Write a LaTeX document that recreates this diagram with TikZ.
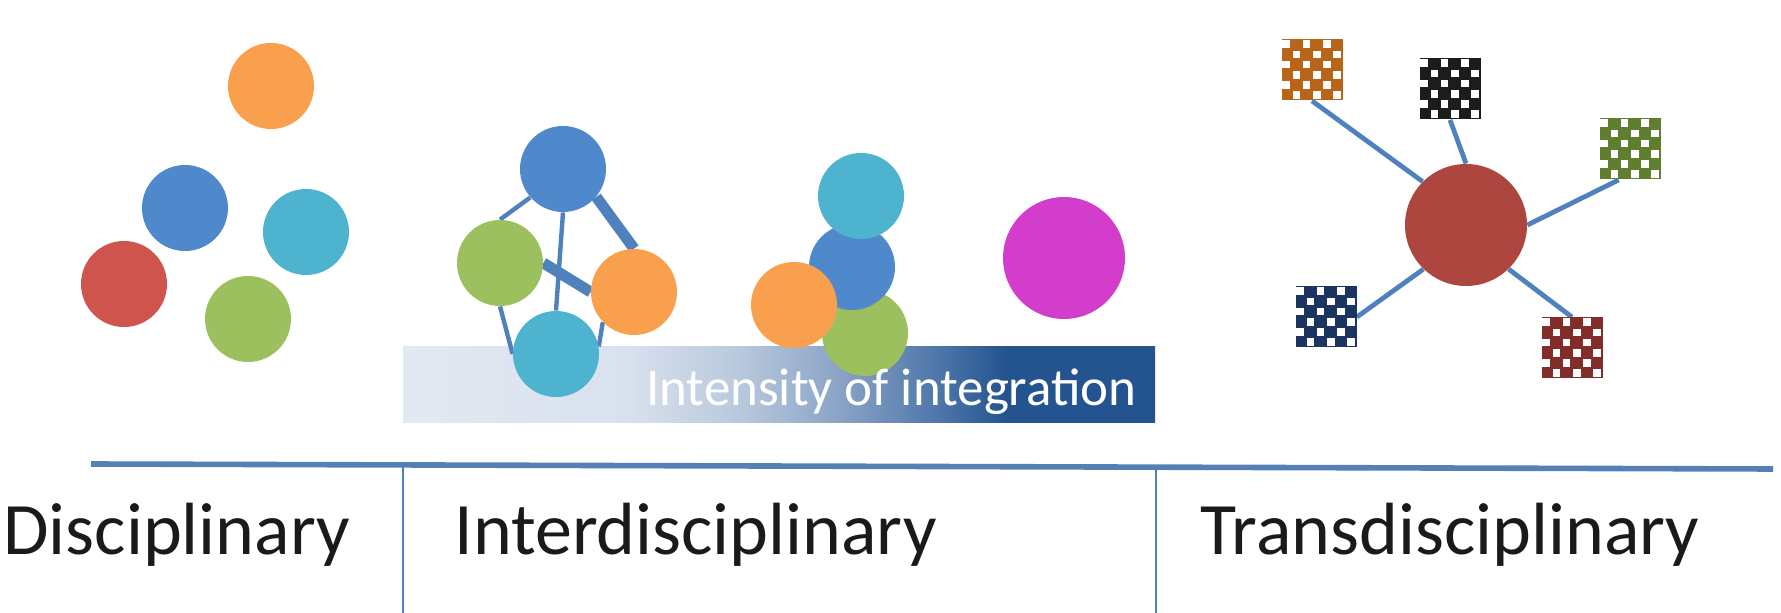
\documentclass[tikz,border=0pt]{standalone}
\usepackage{fontspec}
\setmainfont{Carlito}
\usepackage{tikz}
\usetikzlibrary{backgrounds}
\definecolor{Ink}{HTML}{1A1A1A}
\definecolor{DiscOrange}{HTML}{F8A04E}
\definecolor{DiscBlue}{HTML}{4F89CB}
\definecolor{DiscCyan}{HTML}{4DB3CF}
\definecolor{DiscRed}{HTML}{CF544E}
\definecolor{DiscGreen}{HTML}{9DC05E}
\definecolor{DiscMagenta}{HTML}{D23ECB}
\definecolor{HubRed}{HTML}{AD463F}
\definecolor{LinkBlue}{HTML}{4F81BD}
\definecolor{RuleBlue}{HTML}{5580B6}
\definecolor{PatchOrange}{HTML}{B8651A}
\definecolor{PatchBlack}{HTML}{1C1C1C}
\definecolor{PatchGreen}{HTML}{5F7F2F}
\definecolor{PatchNavy}{HTML}{1B3560}
\definecolor{PatchRed}{HTML}{832D2A}
\definecolor{BandLight}{HTML}{E3E9F2}
\definecolor{BandPale}{HTML}{D8E1EE}
\definecolor{BandMist}{HTML}{B8C8DC}
\definecolor{BandMid}{HTML}{8AA3C6}
\definecolor{BandDeep}{HTML}{4F77AA}
\definecolor{BandDark}{HTML}{24548F}
\pgfdeclarehorizontalshading{intensity}{100bp}{color(0bp)=(BandLight); color(25bp)=(BandLight); color(40bp)=(BandPale); color(47.5bp)=(BandMist); color(54bp)=(BandMid); color(60.5bp)=(BandDeep); color(65bp)=(BandDark); color(75bp)=(BandDark); color(100bp)=(BandDark)}
\tikzset{
  disc/.style={circle,inner sep=0pt,minimum size=43pt,draw=none},
  bigdisc/.style={disc,minimum size=61pt},
  patch/.style={rectangle,inner sep=0pt,minimum size=30.5pt,draw=none},
  link/.style={draw=LinkBlue,line width=2.2pt},
  bond/.style={link,line width=5.5pt},
  spoke/.style={link,line width=2.4pt},
  rule/.style={draw=RuleBlue,line width=2.8pt},
  divider/.style={draw=LinkBlue,line width=1.2pt},
  band/.style={rectangle,inner sep=0pt,minimum width=376pt,minimum height=38pt,shading=intensity},
  bandtext/.style={anchor=base east,inner sep=0pt,text=white,font=\fontsize{26.5}{30}\selectfont},
  tag/.style={anchor=base west,inner sep=0pt,text=Ink,font=\fontsize{37}{44}\selectfont}
}
% white cells of a checkered patch
\newcommand\checkerpatch[1]{%
  \foreach \i in {0,...,5}{\foreach \j in {0,...,5}{%
    \pgfmathtruncatemacro\cellodd{mod(\i+\j,2)}%
    \ifnum\cellodd=0
      \fill[white,shift={(#1.north west)}] (\i*10.17+1.3,\j*10.17+1.3) rectangle +(7.6,7.6);
    \fi}}}

\begin{document}
\begin{tikzpicture}[x=0.5pt,y=-0.5pt]
\useasboundingbox (0,0) rectangle (1781,613);
% disciplinary
\node[disc,fill=DiscOrange] (dO) at (271,86) {};
\node[disc,fill=DiscBlue] (dB) at (185,208) {};
\node[disc,fill=DiscCyan] (dC) at (306,232) {};
\node[disc,fill=DiscRed] (dR) at (124,284) {};
\node[disc,fill=DiscGreen] (dG) at (248,319) {};
% interdisciplinary, linked
\node[disc,fill=DiscBlue] (iB) at (563,169) {};
\node[disc,fill=DiscGreen] (iG) at (500,263) {};
\node[disc,fill=DiscOrange] (iO) at (634,292) {};
\node[disc,fill=DiscCyan] (iC) at (556,354) {};
% interdisciplinary, merged
\node[disc,fill=DiscGreen] (mG) at (865,333) {};
\node[disc,fill=DiscBlue] (mB) at (852,267) {};
\node[disc,fill=DiscCyan] (mC) at (861,196) {};
\node[disc,fill=DiscOrange] (mO) at (794,305) {};
\node[bigdisc,fill=DiscMagenta] (mM) at (1064,258) {};
% transdisciplinary
\node[bigdisc,fill=HubRed] (hub) at (1466,225) {};
\node[patch,fill=PatchOrange] (pA) at (1312,70) {};
\node[patch,fill=PatchBlack] (pB) at (1450,89) {};
\node[patch,fill=PatchGreen] (pC) at (1630,149) {};
\node[patch,fill=PatchNavy] (pD) at (1326,317) {};
\node[patch,fill=PatchRed] (pE) at (1572,348) {};
\foreach \p in {pA,pB,pC,pD,pE}{\checkerpatch{\p}}
\begin{scope}[on background layer]
\node[band] (intens) at (779,385) {};
\draw[link] (iB.221)--(iG.north);\draw[link] (iB.south)--(iC.north);
\draw[bond] (iB.320)--(iO.north);\draw[bond] (iG.east)--(iO.west);
\draw[link] (iG.south)--(iC.west);\draw[link] (iC.10)--(iO.224);
\draw[spoke] (hub.135)--(pA.south);\draw[spoke] (hub.north)--(pB.south);
\draw[spoke] (hub.east)--(pC.250);\draw[spoke] (hub.226)--(pD.east);
\draw[spoke] (hub.314)--(pE.north);
\end{scope}
\node[bandtext] (intenslabel) at (1137,406) {Intensity of integration};
% axis and labels
\draw[rule] (91,464)--(1773,469);
\draw[divider] (403,465)--(403,613);\draw[divider] (1156,467)--(1156,613);
\node[tag] (disclabel) at (3,555) {Disciplinary};
\node[tag] (interlabel) at (454,555) {Interdisciplinary};
\node[tag] (translabel) at (1200,555) {Transdisciplinary};
\end{tikzpicture}
\end{document}
